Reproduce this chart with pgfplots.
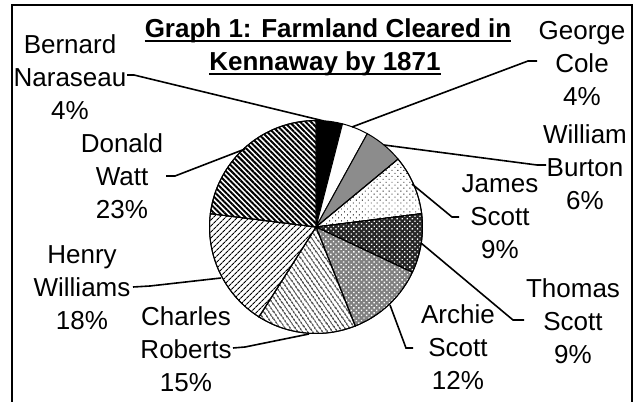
\documentclass[border=0pt]{standalone}
\usepackage{fontspec}
\setmainfont{Liberation Sans}
\usepackage{pgfplots}
\pgfplotsset{compat=1.18}
\usetikzlibrary{patterns.meta}
\newcommand{\tl}[5]{%
  \node[anchor=base, inner sep=0pt] at (axis cs:#1,#2) {#3};
  \node[anchor=base, inner sep=0pt] at (axis cs:#1,{#2+33}) {#4};
  \node[anchor=base, inner sep=0pt] at (axis cs:#1,{#2+66}) {#5};
}
\begin{document}
\begin{tikzpicture}[font=\fontsize{26}{31}\selectfont]
\path[use as bounding box] (0,0) rectangle (638pt,402pt);
\begin{axis}[at={(0,0)}, anchor=south west, scale only axis,
  width=638pt, height=402pt, xmin=0, xmax=638, ymin=0, ymax=402,
  y dir=reverse, hide axis, clip=false, enlargelimits=false]
% frame
\draw[line width=2pt] (axis cs:12,403) -- (axis cs:12,5) -- (axis cs:632,5) -- (axis cs:632,403);
% pie slices: cumulative percentages (clockwise from top)
% Bernard Naraseau 4
\addplot[draw=black, line width=1pt, fill=black, no markers, variable=\t, domain=0:4, samples=12]
  ({316+106.5*sin(3.6*\t)},{227-106.5*cos(3.6*\t)}) -- (axis cs:316,227) -- cycle;
% George Cole 4
\addplot[draw=black, line width=1pt, fill=white, no markers, variable=\t, domain=4:8, samples=12]
  ({316+106.5*sin(3.6*\t)},{227-106.5*cos(3.6*\t)}) -- (axis cs:316,227) -- cycle;
% William Burton 6
\addplot[draw=black, line width=1pt, fill=black!45, no markers, variable=\t, domain=8:14, samples=16]
  ({316+106.5*sin(3.6*\t)},{227-106.5*cos(3.6*\t)}) -- (axis cs:316,227) -- cycle;
% James Scott 9
\addplot[draw=black, line width=1pt, fill=white, postaction={pattern={Dots[angle=45, distance=4.2pt, radius=0.65pt]}, pattern color=black}, no markers, variable=\t, domain=14:23, samples=20]
  ({316+106.5*sin(3.6*\t)},{227-106.5*cos(3.6*\t)}) -- (axis cs:316,227) -- cycle;
% Thomas Scott 9
\addplot[draw=black, line width=1pt, fill=black!85, postaction={pattern={Dots[angle=45, distance=3.6pt, radius=0.95pt]}, pattern color=white}, no markers, variable=\t, domain=23:32, samples=20]
  ({316+106.5*sin(3.6*\t)},{227-106.5*cos(3.6*\t)}) -- (axis cs:316,227) -- cycle;
% Archie Scott 12
\addplot[draw=black, line width=1pt, fill=black!50, postaction={pattern={Dots[angle=45, distance=3.6pt, radius=1.0pt]}, pattern color=white}, no markers, variable=\t, domain=32:44, samples=24]
  ({316+106.5*sin(3.6*\t)},{227-106.5*cos(3.6*\t)}) -- (axis cs:316,227) -- cycle;
% Charles Roberts 15
\addplot[draw=black, line width=1pt, fill=white, postaction={pattern={Lines[angle=-55, distance=4pt, line width=1.1pt]}, pattern color=black}, no markers, variable=\t, domain=44:59, samples=28]
  ({316+106.5*sin(3.6*\t)},{227-106.5*cos(3.6*\t)}) -- (axis cs:316,227) -- cycle;
% Henry Williams 18
\addplot[draw=black, line width=1pt, fill=white, postaction={pattern={Lines[angle=45, distance=4pt, line width=1.1pt]}, pattern color=black}, no markers, variable=\t, domain=59:77, samples=32]
  ({316+106.5*sin(3.6*\t)},{227-106.5*cos(3.6*\t)}) -- (axis cs:316,227) -- cycle;
% Donald Watt 23
\addplot[draw=black, line width=1pt, fill=white, postaction={pattern={Lines[angle=-45, distance=3.8pt, line width=2pt]}, pattern color=black}, no markers, variable=\t, domain=77:100, samples=40]
  ({316+106.5*sin(3.6*\t)},{227-106.5*cos(3.6*\t)}) -- (axis cs:316,227) -- cycle;
% leader lines
\draw[line width=1.6pt] (axis cs:127,75) -- (axis cs:134,75) -- (axis cs:324,121);
\draw[line width=1.6pt] (axis cs:537,61) -- (axis cs:528,61) -- (axis cs:352,127);
\draw[line width=1.6pt] (axis cs:546,165) -- (axis cs:537,165) -- (axis cs:384,145);
\draw[line width=1.6pt] (axis cs:459,217) -- (axis cs:452,217) -- (axis cs:412,184);
\draw[line width=1.6pt] (axis cs:524,320) -- (axis cs:513,320) -- (axis cs:421,243);
\draw[line width=1.6pt] (axis cs:413,348) -- (axis cs:406,348) -- (axis cs:390,305);
\draw[line width=1.6pt] (axis cs:233,348) -- (axis cs:245,347) -- (axis cs:309,334);
\draw[line width=1.6pt] (axis cs:133,287) -- (axis cs:150,286) -- (axis cs:221,278);
\draw[line width=1.6pt] (axis cs:166,176) -- (axis cs:175,176) -- (axis cs:245,149);
% title
\node[anchor=base, inner sep=0pt, font=\fontsize{26}{31}\selectfont\bfseries] (t1) at (axis cs:328,37) {Graph 1: Farmland Cleared in};
\node[anchor=base, inner sep=0pt, font=\fontsize{26}{31}\selectfont\bfseries] (t2) at (axis cs:325,70) {Kennaway by 1871};
\draw[line width=2pt] ([yshift=-4pt]t1.base west) -- ([yshift=-4pt]t1.base east);
\draw[line width=2pt] ([yshift=-4pt]t2.base west) -- ([yshift=-4pt]t2.base east);
% labels
\tl{70}{53}{Bernard}{Naraseau}{4\%}
\tl{582}{39}{George}{Cole}{4\%}
\tl{585}{143}{William}{Burton}{6\%}
\tl{500}{192}{James}{Scott}{9\%}
\tl{573}{297}{Thomas}{Scott}{9\%}
\tl{458}{323}{Archie}{Scott}{12\%}
\tl{186}{325}{Charles}{Roberts}{15\%}
\tl{82}{263}{Henry}{Williams}{18\%}
\tl{122}{152}{Donald}{Watt}{23\%}
\end{axis}
\end{tikzpicture}
\end{document}
